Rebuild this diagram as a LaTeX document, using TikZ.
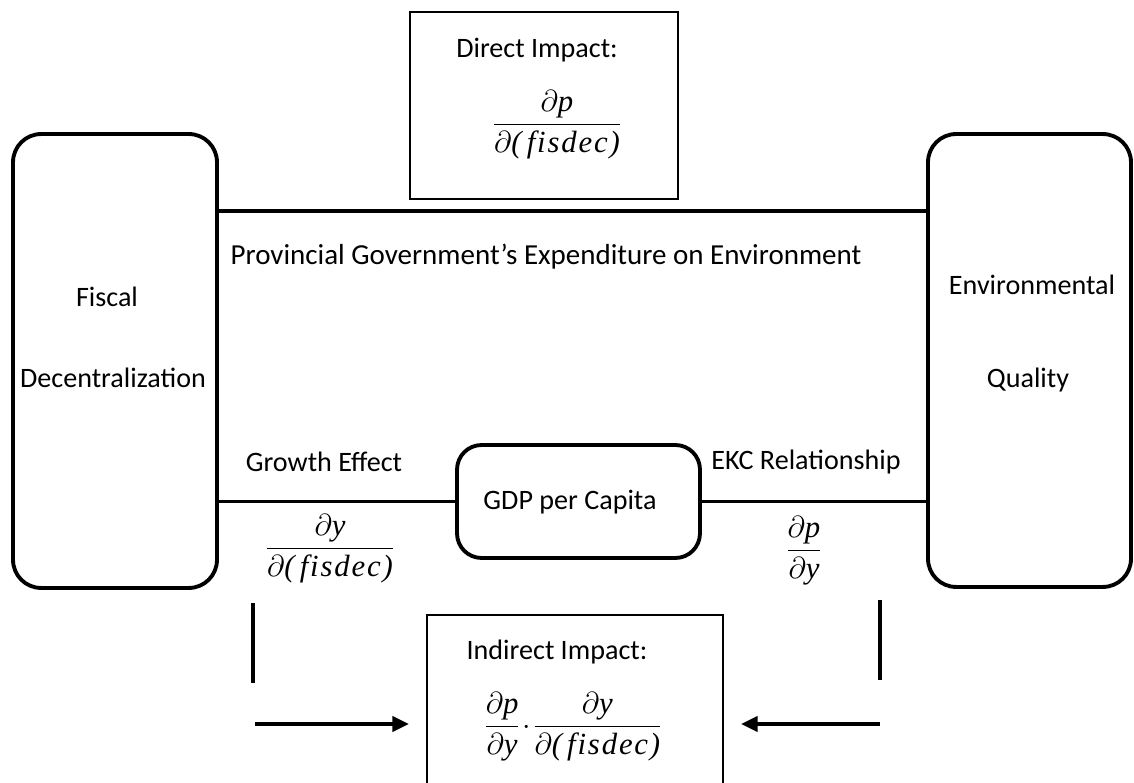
\documentclass[tikz,border=0pt]{standalone}
\usepackage{amsmath}
\usepackage{fontspec}
\setmainfont{Carlito}
\newfontfamily\eqfont[LetterSpace=6]{Liberation Serif}
\usetikzlibrary{arrows.meta,positioning}

% italic letters and partial-derivative fractions
\newcommand{\vv}[1]{\text{\eqfont\itshape #1}}
\newcommand{\pd}[2]{\dfrac{\partial\vv{#1}}{\partial\vv{(\,#2)}}}

\begin{document}
\begin{tikzpicture}[x=0.02cm, y=-0.02cm, font=\fontsize{16}{19}\selectfont,
      rbox/.style={draw, line width=2.2pt, rounded corners=16pt},
      sbox/.style={draw, line width=1pt},
      link/.style={line width=2.2pt},
      arr/.style={-{Triangle[length=9.6pt,width=8.6pt]}, line width=2.3pt},
      mth/.style={font=\fontsize{17.5}{21}\selectfont, inner sep=0pt}]
    \useasboundingbox (0,0) rectangle (1134,783);

    % boxes
    \node[rbox, minimum width=4.08cm, minimum height=9.08cm] (fd) at (115, 361) {};
    \node[rbox, minimum width=4.06cm, minimum height=9.06cm] (eq) at (1029.5, 360.5) {};
    \node[rbox, rounded corners=14pt, minimum width=4.86cm, minimum height=2.26cm] (gdp) at (578.5, 501.5) {};
    \node[sbox, minimum width=5.36cm, minimum height=3.74cm] (direct) at (544, 105.5) {};
    \node[sbox, minimum width=5.92cm, minimum height=3.7cm] (indirect) at (575, 707.5) {};

    % texts
    \node (fdA) at (107, 297) {Fiscal};
    \node (fdB) at (113, 378) {Decentralization};
    \node (eqA) at (1032, 285) {Environmental};
    \node (eqB) at (1028, 380) {Quality};
    \node (gdpT) at (570, 502) {GDP per Capita};
    \node (dirT) at (537, 50) {Direct Impact:};
    \node[mth] (dirF) at (557, 125) {$\pd{p}{fisdec}$};
    \node[font=\fontsize{16.5}{19}\selectfont] (exp) at (546, 257) {Provincial Government’s Expenditure on Environment};
    \node (grT) at (324, 462) {Growth Effect};
    \node[mth] (grF) at (330, 549) {$\pd{y}{fisdec}$};
    \node (ekT) at (806, 462) {EKC Relationship};
    \node[mth] (ekF) at (804, 551) {$\dfrac{\partial\vv{p}}{\partial\vv{y}}$};
    \node (indT) at (557, 652) {Indirect Impact:};
    \node[mth] (indF) at (573, 727) {$\dfrac{\partial\vv{p}}{\partial\vv{y}}\!\cdot\!\pd{y}{fisdec}$};

    % links
    \coordinate (topL) at (fd.east |- 0,211);
    \coordinate (botL) at (fd.east |- gdp.west);
    \draw[link] (topL) -- (topL -| eq.west);
    \draw[link] (botL) -- (gdp.west);
    \draw[link] (gdp.east) -- (gdp.east -| eq.west);

    % paths to the indirect impact
    \coordinate (lTop) at (253, 603);
    \coordinate (lBot) at (253, 683);
    \coordinate (rTop) at (880, 600);
    \coordinate (rBot) at (880, 680);
    \coordinate (lArr) at (255, 724);
    \coordinate (rArr) at (880, 724);
    \draw[link] (lTop) -- (lBot);
    \draw[link] (rTop) -- (rBot);
    \draw[arr] (lArr) -- ([xshift=-0.34cm]indirect.west |- lArr);
    \draw[arr] (rArr) -- ([xshift=0.34cm]indirect.east |- rArr);
\end{tikzpicture}
\end{document}
